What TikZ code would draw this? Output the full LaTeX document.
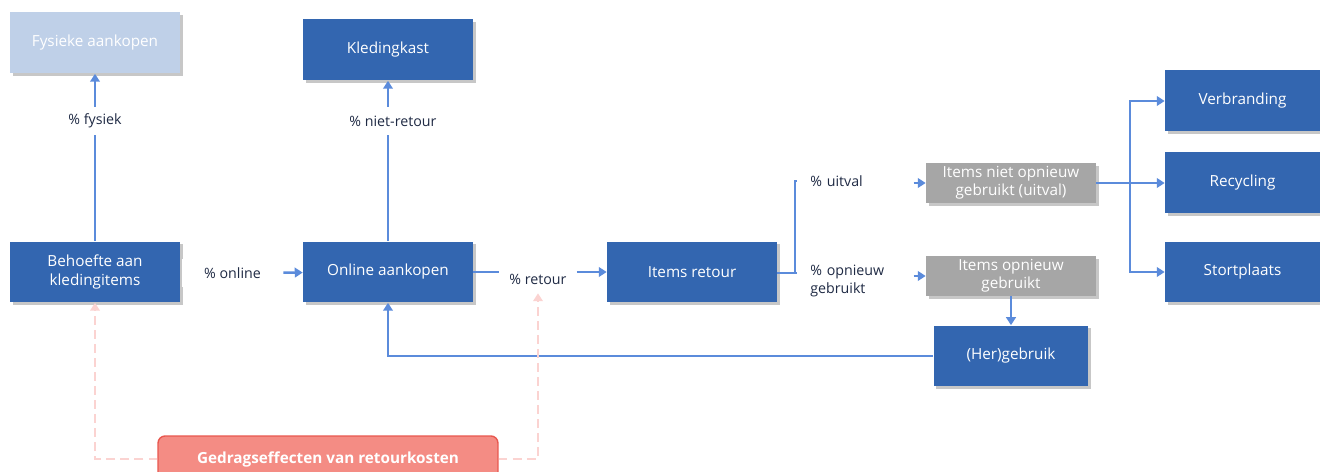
\documentclass[tikz,border=0pt]{standalone}
\usepackage{fontspec}
\setmainfont{Open Sans}
\usetikzlibrary{arrows.meta,shadows,positioning}
\definecolor{boxblue}{HTML}{3366B0}
\definecolor{paleblue}{HTML}{BFD0E8}
\definecolor{boxgray}{HTML}{A6A6A6}
\definecolor{flowblue}{HTML}{5B8BDB}
\definecolor{labelnavy}{HTML}{1F2A44}
\definecolor{salmon}{HTML}{F48C84}
\definecolor{salmonedge}{HTML}{E8574F}
\definecolor{dashpink}{HTML}{FBD3D1}

\begin{document}
\begin{tikzpicture}[x=0.02cm,y=-0.02cm,
  box/.style={fill=boxblue, text=white, align=center, font=\fontsize{8.7}{10.5}\selectfont,
    minimum width=3.4cm, minimum height=1.22cm, inner sep=1pt,
    drop shadow={shadow xshift=1.5pt, shadow yshift=-1.5pt, fill=black, opacity=0.22}},
  graybox/.style={box, fill=boxgray, minimum height=0.8cm},
  pct/.style={text=labelnavy, font=\fontsize{8.1}{9.8}\selectfont, fill=white, minimum height=0.56cm, inner sep=1pt},
  pctleft/.style={pct, align=left, text width=1.8cm, inner xsep=0.26cm, anchor=west},
  flow/.style={draw=flowblue, line width=1.5pt, -{Triangle[length=4.5pt,width=5.5pt]}},
  flowline/.style={draw=flowblue, line width=1.5pt},
  effect/.style={draw=dashpink, line width=1.2pt, dash pattern=on 5pt off 3pt, -{Triangle[length=4.5pt,width=5.5pt]}}]
  \clip (0,0) rectangle (1320,472);
  \useasboundingbox (0,0) rectangle (1320,472);
  % Define nodes
  \node[box, fill=paleblue]          (fysiek)    at (95,43)   {Fysieke aankopen};
  \node[box]                          (kast)      at (388,50)  {Kledingkast};
  \node[box]                          (behoefte)  at (95,272)  {Behoefte aan\\kledingitems};
  \node[box]                          (online)    at (388,272) {Online aankopen};
  \node[box]                          (retour)    at (692,272) {Items retour};
  \node[graybox]                      (uitval)    at (1011,183) {Items niet opnieuw\\gebruikt (uitval)};
  \node[graybox]                      (opnieuw)   at (1011,276) {Items opnieuw\\gebruikt};
  \node[box, minimum width=3.1cm]     (hergebruik) at (1011,356) {(Her)gebruik};
  \node[box, minimum width=3.1cm]     (verbranding) at (1242.5,101) {Verbranding};
  \node[box, minimum width=3.1cm]     (recycling) at (1242.5,183) {Recycling};
  \node[box, minimum width=3.1cm]     (stort)     at (1242.5,272) {Stortplaats};
  \node[rounded corners=4pt, fill=salmon, draw=salmonedge, line width=0.8pt, text=white,
        font=\bfseries\fontsize{8.7}{10}\selectfont, minimum width=6.8cm, minimum height=0.92cm]
                                      (gedrag)    at (328,459) {Gedragseffecten van retourkosten};
  % Labels
  \node[pct]                          (lfysiek)   at (95,121)  {\% fysiek};
  \node[pct]                          (lniet)     at (393,121) {\% niet-retour};
  \node[pct, minimum width=2.02cm]    (lonline)   at (232.5,273) {\% online};
  \node[pct, inner xsep=0.2cm]        (lretour)   at (538,279) {\% retour};
  \node[pctleft]                      (luitval)   at (797,181) {\% uitval};
  \node[pctleft]                      (lopnieuw)  at (797,281) {\% opnieuw\\gebruikt};
  \coordinate (split) at (795,273);
  \coordinate (fan) at (1130,183);
  % Edges
  \draw[flowline] (behoefte) -- (lfysiek);
  \draw[flow] (lfysiek) -- (fysiek);
  \draw[flowline] (online) -- (lniet.south -| online.north);
  \draw[flow] (lniet.north -| kast.south) -- (kast);
  \draw[flow] (lonline) -- (online);
  \draw[flowline] (online.east) -- (lretour.west |- online.east);
  \draw[flow] (lretour.east |- retour.west) -- (retour.west);
  \draw[flowline] (retour.east |- split) -- (split) |- (luitval.west);
  \draw[flowline] (split) -- (lopnieuw.west |- split);
  \draw[flow] (luitval.east |- uitval.west) -- (uitval.west);
  \draw[flow] (lopnieuw.east |- opnieuw.west) -- (opnieuw.west);
  \draw[flowline] (uitval.east) -- (fan);
  \draw[flow] (fan) |- (verbranding.west);
  \draw[flow] (fan) -- (recycling.west);
  \draw[flow] (fan) |- (stort.west);
  \draw[flow] (opnieuw) -- (hergebruik);
  \draw[flow] (hergebruik.west) -| (online.south);
  \draw[effect] (gedrag.west) -| (behoefte.south);
  \draw[effect] (gedrag.east) -| (lretour.south);
\end{tikzpicture}
\end{document}
